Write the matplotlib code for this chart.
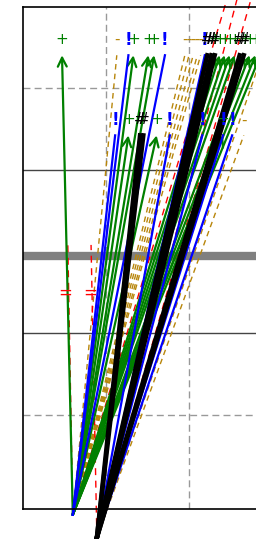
import matplotlib
matplotlib.use("Agg")
import matplotlib.pyplot as plt

# two starting points, below the bottom spine
origin_a = (0.60, -0.22)
origin_b = (0.89, -0.50)

top_y = 5.40
mid_y = 4.42
label_dy = 0.19

# green arrows "+", all from origin A
green_top = [0.47, 1.33, 1.51, 1.58, 2.31, 2.37, 2.43, 2.49, 2.55, 2.67, 2.73, 2.80, 2.86]
green_mid = [1.27, 1.61, 2.41]

# blue lines "!"
blue_a_top = [1.27, 1.71]
blue_a_mid = [1.11]
blue_b_top = [2.19]
blue_b_mid = [1.77, 2.16, 2.41, 2.52]

# black thick lines "#", from origin B
black_top = [2.22, 2.27, 2.31, 2.61, 2.66]
black_mid = [1.41, 1.45]

# gold dashed lines "-"
gold_a_top = [1.13, 1.95, 2.00, 2.05, 2.10, 2.14]
gold_b_mid = [2.66]
gold_b_top = [2.88]

# red dashed lines
red_a_ends = [(0.54, 3.08), (2.47, 6.13), (2.31, 4.42)]
red_b_ends = [(0.82, 3.08), (2.59, 6.13), (2.76, 6.13)]
red_labels = [(0.51, 2.50), (0.81, 2.50)]

fig = plt.figure(figsize=(2.56, 5.39), dpi=100)
ax = fig.add_axes([23 / 256, 30 / 539, 249 / 256, 502 / 539])
ax.set_xlim(0, 3)
ax.set_ylim(-0.15, 5.99)
ax.set_xticks([])
ax.set_yticks([])
ax.spines['right'].set_visible(False)
for s in ['left', 'top', 'bottom']:
    ax.spines[s].set_linewidth(1.2)

# grid-like reference lines
for x in [1, 2]:
    ax.axvline(x, color='#999999', lw=1, ls=(0, (5, 3)), zorder=0.5)
for y in [1, 5]:
    ax.axhline(y, color='#999999', lw=1, ls=(0, (5, 3)), zorder=0.5)
for y in [2, 4]:
    ax.axhline(y, color='#444444', lw=1, zorder=0.5)
ax.axhline(2.945, color='gray', lw=6, zorder=1)


def seg(o, e, **kw):
    ax.plot([o[0], e[0]], [o[1], e[1]], clip_on=False, zorder=2, **kw)


def label(x, y, s, color, size=11, weight='normal'):
    ax.text(x, y, s, color=color, fontsize=size, fontweight=weight,
            ha='center', va='center', clip_on=False, zorder=3)


gold_kw = dict(color='darkgoldenrod', lw=1, ls=(0, (4, 3)))
for x in gold_a_top:
    seg(origin_a, (x, top_y), **gold_kw)
    label(x, top_y + label_dy, '-', 'darkgoldenrod')
for x in gold_b_top:
    seg(origin_b, (x, top_y), **gold_kw)
for x in gold_b_mid:
    seg(origin_b, (x, mid_y), **gold_kw)
    label(x, mid_y + label_dy, '-', 'darkgoldenrod')

red_kw = dict(color='red', lw=1, ls=(0, (5, 4)))
for e in red_a_ends:
    seg(origin_a, e, **red_kw)
for e in red_b_ends:
    seg(origin_b, e, **red_kw)
for x, y in red_labels:
    label(x, y, '=', 'red', size=12)

for x in green_top:
    ax.annotate('', xy=(x, top_y), xytext=origin_a, annotation_clip=False,
                arrowprops=dict(arrowstyle='->', color='green', lw=1.6,
                                mutation_scale=16, shrinkA=0, shrinkB=0), zorder=2)
    label(x, top_y + label_dy, '+', 'green')
for x in green_mid:
    ax.annotate('', xy=(x, mid_y), xytext=origin_a, annotation_clip=False,
                arrowprops=dict(arrowstyle='->', color='green', lw=1.6,
                                mutation_scale=16, shrinkA=0, shrinkB=0), zorder=2)
    label(x, mid_y + label_dy, '+', 'green')

blue_kw = dict(color='blue', lw=1.6)
for x in blue_a_top:
    seg(origin_a, (x, top_y), **blue_kw)
    label(x, top_y + label_dy, '!', 'blue', 12, 'bold')
for x in blue_a_mid:
    seg(origin_a, (x, mid_y), **blue_kw)
    label(x, mid_y + label_dy, '!', 'blue', 12, 'bold')
for x in blue_b_top:
    seg(origin_b, (x, top_y), **blue_kw)
    label(x, top_y + label_dy, '!', 'blue', 12, 'bold')
for x in blue_b_mid:
    seg(origin_b, (x, mid_y), **blue_kw)
    label(x, mid_y + label_dy, '!', 'blue', 12, 'bold')

black_kw = dict(color='black', lw=3.2)
for x in black_top:
    seg(origin_b, (x, top_y), **black_kw)
    label(x, top_y + label_dy, '#', 'black')
for x in black_mid:
    seg(origin_b, (x, mid_y), **black_kw)
    label(x, mid_y + label_dy, '#', 'black')

fig.savefig('out.png', dpi=100)
